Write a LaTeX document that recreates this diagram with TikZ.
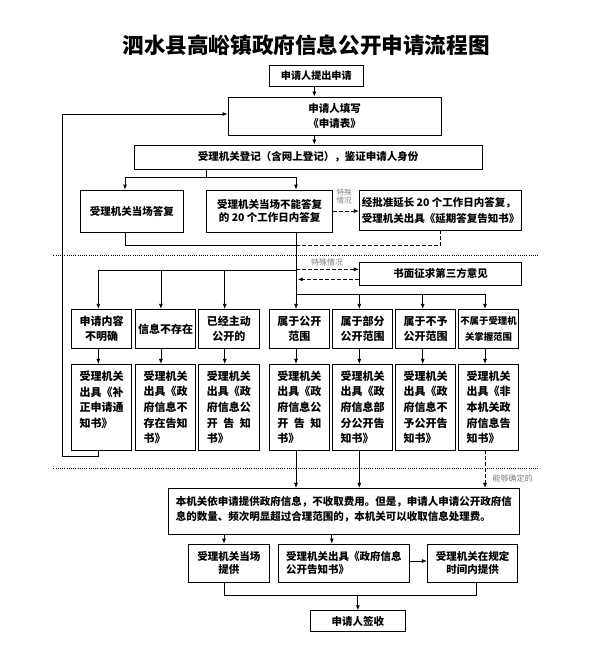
\documentclass[tikz,border=0pt]{standalone}
\usepackage{fontspec}
\setmainfont{Noto Sans CJK SC}
\usetikzlibrary{arrows.meta,calc}
\newcommand\fsz[2]{\fontsize{#1}{#2}\selectfont\bfseries}
\newcommand\lfz[2]{\fontsize{#1}{#2}\selectfont}
\newcommand\spr[1]{\makebox[44pt][s]{#1}}
\definecolor{lblgray}{HTML}{7F7F7F}
\begin{document}
\begin{tikzpicture}[x=1pt,y=-1pt,
  box/.style={draw, line width=0.8pt, inner sep=0pt, align=center, font=\fsz{10.5}{13.3}},
  rowone/.style={box, minimum width=60.3pt, minimum height=39pt, font=\fsz{11}{15.3}},
  rowtwo/.style={box, minimum height=85.7pt, text width=44pt, inner xsep=8.15pt, align=left, font=\fsz{11}{15.6}},
  arr/.style={-{Latex[length=5pt,width=4pt]}, line width=0.8pt},
  darr/.style={arr, dash pattern=on 3.5pt off 2.5pt},
  dline/.style={line width=0.8pt, dash pattern=on 3.5pt off 2.5pt},
  plain/.style={line width=0.8pt},
  dotl/.style={line width=0.8pt, dash pattern=on 0.8pt off 1.4pt},
  lbl/.style={text=lblgray, inner sep=0pt, font=\lfz{8.5}{8.5}}
]
\fill[white] (0,0) rectangle (600,671);
\useasboundingbox (0,0) rectangle (600,671);

% title
\node[font=\fsz{21.6}{24}, inner sep=0pt] (title) at (306,45) {泗水县高峪镇政府信息公开申请流程图};

% top part
\node[box, minimum width=94pt, minimum height=21pt, font=\fsz{10.1}{12}] (n1) at (316.3,75.5) {申请人提出申请};
\node[box, minimum width=213pt, minimum height=38pt, font=\fsz{10.5}{14.7}] (n2) at (334.5,116) {申请人填写\\《申请表》};
\node[box, minimum width=348pt, minimum height=24pt] (n3) at (308,157) {受理机关登记（含网上登记），鉴证申请人身份};
\node[box, minimum width=102.3pt, minimum height=42pt] (n4) at (131.8,211) {受理机关当场答复};
\node[box, minimum width=126pt, minimum height=42pt] (n5) at (269.7,211) {受理机关当场不能答复\\的 20 个工作日内答复};
\node[box, minimum width=162.4pt, minimum height=40pt, align=left, font=\fsz{10.5}{15.7}] (n6) at (440.5,210.7) {经批准延长 20 个工作日内答复，\\受理机关出具《延期答复告知书》};
\node[box, minimum width=162.4pt, minimum height=22.3pt] (n7) at (440.5,273.85) {书面征求第三方意见};

% row one
\node[rowone] (r1a) at (101.7,328.8) {申请内容\\不明确};
\node[rowone] (r1b) at (165.5,328.8) {信息不存在};
\node[rowone] (r1c) at (228.85,328.8) {已经主动\\公开的};
\node[rowone] (r1d) at (299.3,328.8) {属于公开\\范围};
\node[rowone] (r1e) at (362.5,328.8) {属于部分\\公开范围};
\node[rowone] (r1f) at (425.7,328.8) {属于不予\\公开范围};
\node[rowone, font=\fsz{9.4}{15.3}] (r1g) at (488.5,328.8) {不属于受理机\\关掌握范围};

% row two
\node[rowtwo] (r2a) at (101.7,407.2) {受理机关\\出具《补\\正申请通\\知书》\\\mbox{}};
\node[rowtwo] (r2b) at (165.5,407.2) {受理机关\\出具《政\\府信息不\\存在告知\\书》};
\node[rowtwo] (r2c) at (228.85,407.2) {受理机关\\出具《政\\府信息公\\\spr{开\hfill 告\hfill 知}\\书》};
\node[rowtwo] (r2d) at (299.3,407.2) {受理机关\\出具《政\\府信息公\\\spr{开\hfill 告\hfill 知}\\书》};
\node[rowtwo] (r2e) at (362.5,407.2) {受理机关\\出具《政\\府信息部\\分公开告\\知书》};
\node[rowtwo] (r2f) at (425.7,407.2) {受理机关\\出具《政\\府信息不\\予公开告\\知书》};
\node[rowtwo] (r2g) at (488.5,407.2) {受理机关\\出具《非\\本机关政\\府信息告\\知书》};

% bottom part
\node[box, minimum height=45.7pt, text width=336pt, inner xsep=7.5pt, align=left, font=\fsz{10.5}{15}] (n8) at (343.8,511.2) {本机关依申请提供政府信息，不收取费用。但是，申请人申请公开政府信\\息的数量、频次明显超过合理范围的，本机关可以收取信息处理费。\rule[-6pt]{0pt}{6pt}};
\node[box, minimum width=81pt, minimum height=38.3pt] (rA) at (228.8,563.2) {受理机关当场\\提供};
\node[box, minimum width=131pt, minimum height=38.3pt, align=left] (rB) at (343.8,563.2) {受理机关出具《政府信息\\公开告知书》};
\node[box, minimum width=90.4pt, minimum height=38.3pt] (rC) at (472.5,563.2) {受理机关在规定\\时间内提供};
\node[box, minimum width=94.3pt, minimum height=21pt] (n9) at (357.85,621.2) {申请人签收};

% labels
\node[lbl, align=center, font=\lfz{7.5}{8.2}] (l1) at (344,196.5) {特殊\\情况};
\node[lbl, font=\lfz{8}{8}] (l2) at (327,262.7) {特殊情况};
\node[lbl, font=\lfz{8}{8}] (l3) at (512.5,478.3) {能够确定的};

% helper coordinates
\coordinate (cA) at (314.3,0);
\coordinate (sp) at (296,0);
\coordinate (j1) at (206.7,177);
\coordinate (j2) at (296,245);
\coordinate (j3) at (296,270.7);
\coordinate (j4) at (296,294.3);
\coordinate (lp) at (62.7,456.7);
\coordinate (j5) at (357.85,595.7);
\coordinate (d1s) at (53.3,255);
\coordinate (d1e) at (539,255);
\coordinate (d2s) at (53.3,468);
\coordinate (d2e) at (538,468);

% dotted separators
\draw[dotl] (d1s) -- (d1e);
\draw[dotl] (d2s) -- (d2e);

% connectors top
\draw[arr] (n1.south -| cA) -- (n2.north -| cA);
\draw[arr] (n2.south -| cA) -- (n3.north -| cA);
\draw[plain] (n3.south -| j1) -- (j1);
\draw[arr] (j1) -| ([xshift=-6.8pt]n4.north);
\draw[arr] (j1) -| (n5.north -| sp);
\draw[plain] ([xshift=-6.8pt]n4.south) |- (j2);
\draw[dline] (j2) -| (n6.south);
\draw[darr] (n5.east) -- (n5.east -| n6.west);

% spine and branches
\draw[arr] (n5.south -| sp) -- (r1d.north -| sp);
\draw[arr] (j3) -| ([xshift=-3.4pt]r1a.north);
\draw[arr] ([xshift=-4.6pt]r1b.north |- j3) -- ([xshift=-4.6pt]r1b.north);
\draw[arr] ([xshift=-4.1pt]r1c.north |- j3) -- ([xshift=-4.1pt]r1c.north);
\draw[darr] ([yshift=4.5pt]n7.west -| sp) -- ([yshift=4.5pt]n7.west);
\draw[darr] ([yshift=-5.5pt]n7.west) -- ([yshift=-5.5pt,xshift=1.7pt]n7.west -| sp);
\draw[arr] (j4) -| ([xshift=-3.5pt]r1g.north);
\draw[arr] ([xshift=-3.2pt]r1e.north |- j4) -- ([xshift=-3.2pt]r1e.north);
\draw[arr] ([xshift=-3pt]r1f.north |- j4) -- ([xshift=-3pt]r1f.north);

% row one to row two
\draw[arr] ([xshift=-3.4pt]r1a.south) -- ([xshift=-3.4pt]r2a.north);
\draw[arr] ([xshift=-4.6pt]r1b.south) -- ([xshift=-4.6pt]r2b.north);
\draw[arr] ([xshift=-4.1pt]r1c.south) -- ([xshift=-4.1pt]r2c.north);
\draw[arr] (r1d.south -| sp) -- (r2d.north -| sp);
\draw[arr] ([xshift=-3.2pt]r1e.south) -- ([xshift=-3.2pt]r2e.north);
\draw[arr] ([xshift=-3pt]r1f.south) -- ([xshift=-3pt]r2f.north);
\draw[arr] ([xshift=-3.5pt]r1g.south) -- ([xshift=-3.5pt]r2g.north);

% loop back
\draw[arr] ([xshift=-3pt]r2a.south) |- (lp) |- ([yshift=2pt]n2.west);

% row two to n8
\draw[arr] (r2d.south -| sp) -- (n8.north -| sp);
\draw[arr] ([xshift=-3.2pt]r2e.south) -- ([xshift=-3.2pt]r2e.south |- n8.north);
\draw[darr] ([xshift=-3.5pt]r2g.south) -- ([xshift=-3.5pt]r2g.south |- n8.north);

% bottom connectors
\draw[arr] ([xshift=-4.8pt]rA.north |- n8.south) -- ([xshift=-4.8pt]rA.north);
\draw[arr] ([xshift=-12pt]rB.north |- n8.south) -- ([xshift=-12pt]rB.north);
\draw[arr] ([yshift=2.2pt]rB.east) -- ([yshift=2.2pt]rB.east -| rC.west);
\draw[plain] ([xshift=-4.8pt]rA.south) |- (j5);
\draw[plain] ([xshift=3.5pt]rC.south) |- (j5);
\draw[arr] (j5) -- (n9.north);
\end{tikzpicture}
\end{document}
